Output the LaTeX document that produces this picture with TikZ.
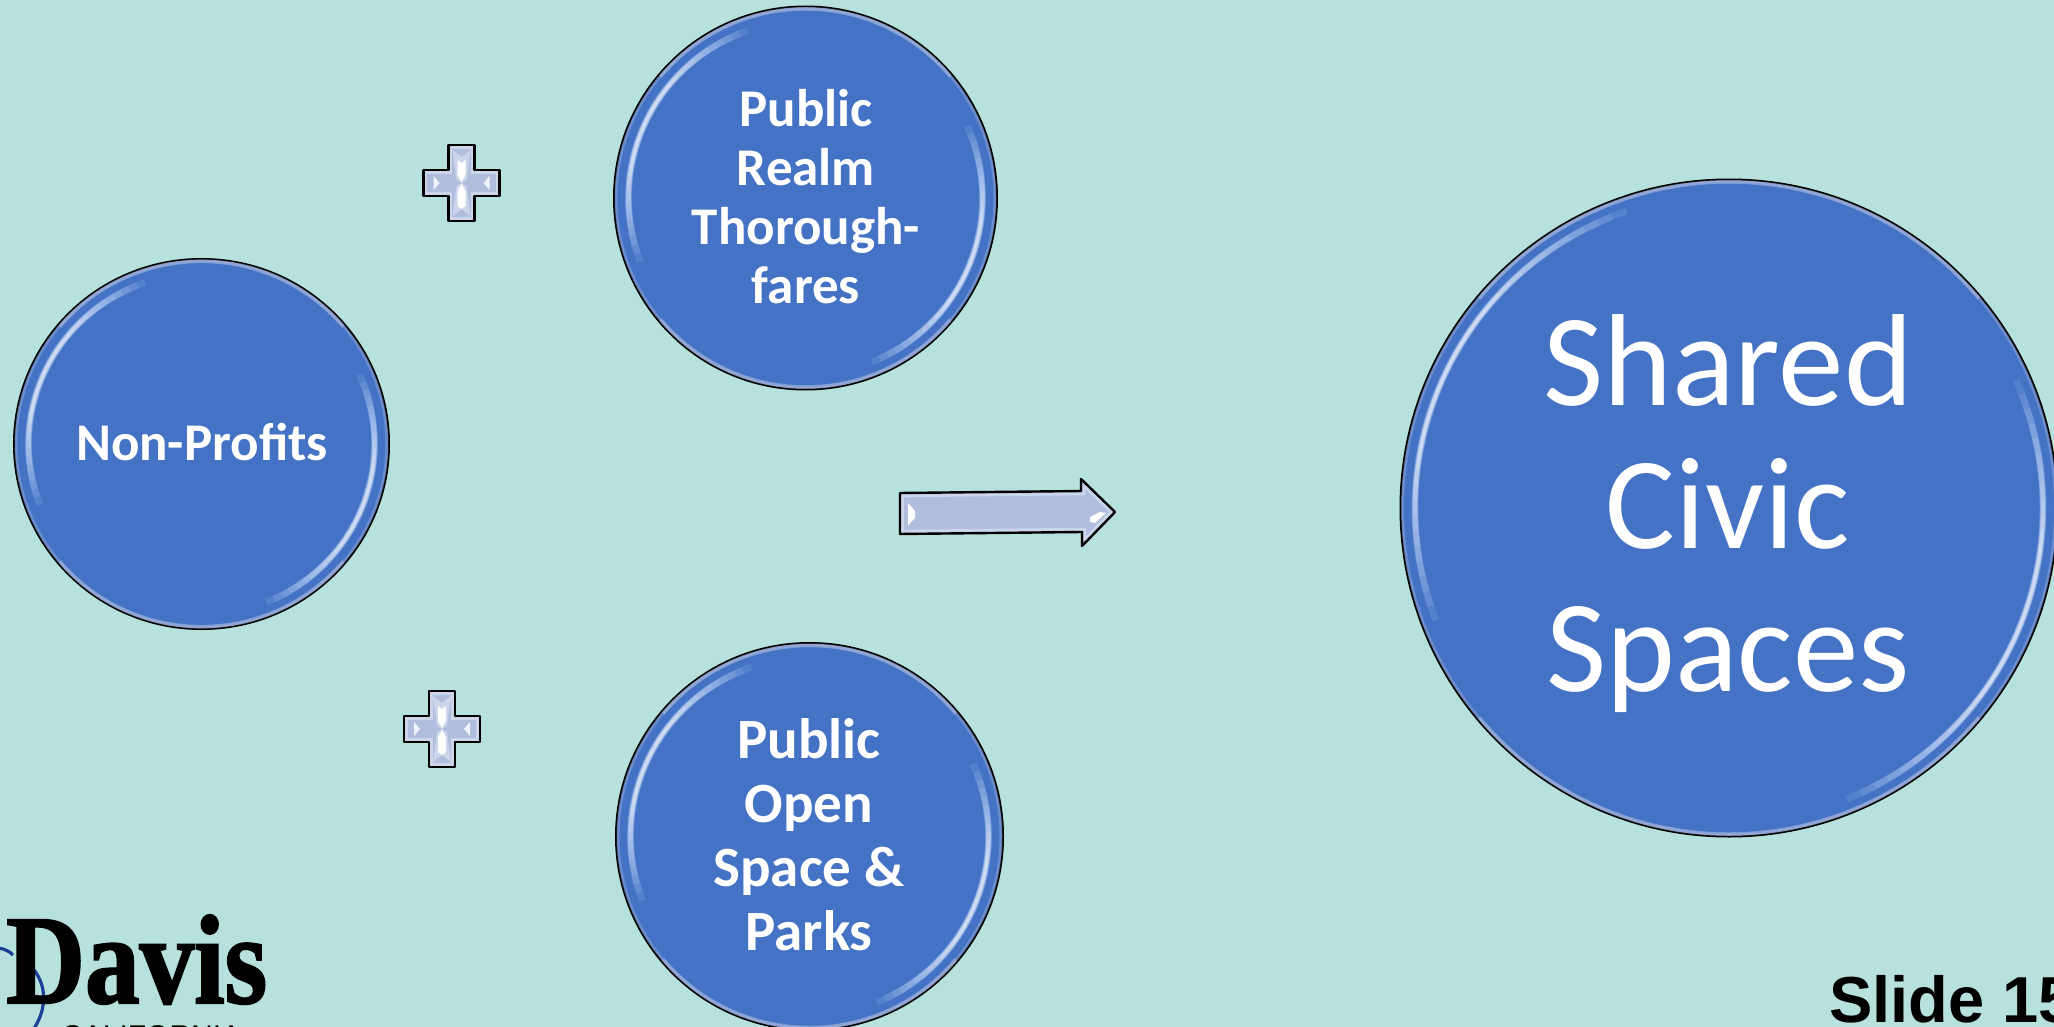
\documentclass[tikz,border=0pt]{standalone}
\usepackage{fontspec}
\usetikzlibrary{shapes.geometric}
\setmainfont{Carlito}
\newfontfamily\slidefont{Liberation Sans}
\newfontfamily\davisfont[FakeBold=1.6,FakeStretch=0.86]{Liberation Serif Bold}
\newfontfamily\capsfont{Liberation Sans}
\definecolor{pagebg}{HTML}{B7E1DC}
\definecolor{discblue}{HTML}{4472C4}
\definecolor{rimlilac}{HTML}{B4C0E0}
\definecolor{glowblue}{HTML}{86ABEA}
\definecolor{markfill}{HTML}{B0BDDD}
\definecolor{marklight}{HTML}{CDD5EA}
\definecolor{logoblue}{HTML}{1B3F94}
\tikzset{
  x=1pt,y=-1pt,
  disc/.style={ellipse,draw=black,line width=2pt,fill=discblue,inner sep=0pt},
  disctext/.style={text=white,align=center,inner sep=0pt},
  smalllabel/.style={font=\fontsize{53}{59}\selectfont\bfseries},
  openlabel/.style={font=\fontsize{57}{64}\selectfont\bfseries},
  biglabel/.style={font=\fontsize{131}{143}\selectfont},
  markshape/.style={draw=black,line width=2.4pt,line join=round,fill=markfill},
  pics/plusmark/.style={code={
    \path[markshape] (-13,-38)--(13,-38)--(13,-13)--(38,-13)--(38,13)--(13,13)--(13,38)--(-13,38)--(-13,13)--(-38,13)--(-38,-13)--(-13,-13)--cycle;
    \draw[marklight,line width=2.4pt] (-10.5,-35.5)--(10.5,-35.5)--(10.5,-10.5)--(35.5,-10.5)--(35.5,10.5)--(10.5,10.5)--(10.5,35.5)--(-10.5,35.5)--(-10.5,10.5)--(-35.5,10.5)--(-35.5,-10.5)--(-10.5,-10.5)--cycle;
    \fill[marklight] (-9,-33)--(0,-26)--(9,-33)--(5,-3)--(0,0)--(-5,-3)--cycle;
    \fill[marklight] (-9,33)--(0,26)--(9,33)--(5,3)--(0,0)--(-5,3)--cycle;
    \fill[white] (-4,-23)--(0,-20)--(4,-23)--(4,-8)--(0,-1)--(-4,-8)--cycle;
    \fill[white] (-4,23)--(0,26)--(4,23)--(4,8)--(0,1)--(-4,8)--cycle;
    \fill[white!70!marklight] (-28,-7)--(-22,0)--(-28,7)--cycle;
    \fill[white!70!marklight] (28,-7)--(22,0)--(28,7)--cycle;
  }},
}
\newcommand{\bevelrim}[4]{%
  \begin{scope}[shift={(#1,#2)},yscale=#4]
    \draw[rimlilac,line width=3pt,opacity=.35] (0,0) circle[radius=#3-2.5];
    \draw[rimlilac,line width=3.5pt,opacity=.5] (-140:#3-3) arc[start angle=-140,end angle=-40,radius=#3-3];
    \draw[rimlilac,line width=3.5pt,opacity=.5] (40:#3-3) arc[start angle=40,end angle=140,radius=#3-3];
    \foreach \i in {0,...,11}{
      \pgfmathsetmacro{\halfspan}{46-2.8*\i}
      \pgfmathsetmacro{\wid}{7-0.42*\i}
      \pgfmathsetmacro{\mixv}{int(15+7*\i)}
      \pgfmathsetmacro{\angUa}{-155+\halfspan}
      \pgfmathsetmacro{\angUb}{-155-\halfspan}
      \pgfmathsetmacro{\angLa}{22+\halfspan}
      \pgfmathsetmacro{\angLb}{22-\halfspan}
      \draw[white!\mixv!glowblue,line width=\wid pt,opacity=.2] (\angUa:#3-15) arc[start angle=\angUa,end angle=\angUb,radius=#3-15];
      \draw[white!\mixv!glowblue,line width=\wid pt,opacity=.2] (\angLa:#3-15) arc[start angle=\angLa,end angle=\angLb,radius=#3-15];
    }
  \end{scope}%
}
\begin{document}
\begin{tikzpicture}
\useasboundingbox (0,0) rectangle (2054,1027);
\clip (0,0) rectangle (2054,1027);
\fill[pagebg] (0,0) rectangle (2054,1027);

% logo
\draw[logoblue,line width=3.2pt] (-2,948) .. controls (6,949) and (10,952) .. (13,955);
\draw[logoblue,line width=3.2pt] (34,970) .. controls (46,985) and (48,1008) .. (33,1030);
\node[anchor=base west,inner sep=0pt,font=\fontsize{127}{127}\davisfont] (davis) at (6,1003) {Davis};
\node[anchor=base west,inner sep=0pt,font=\fontsize{30}{30}\capsfont,text=black] (california) at (61,1046) {CALIFORNIA};

% discs
\node[disc,minimum width=375pt,minimum height=370pt] (nonprofits) at (201.5,444) {};
\bevelrim{201.5}{444}{188}{0.987}
\node[disctext,smalllabel] (nonprofitstext) at (202,442) {Non-Profits};
\node[disc,minimum width=383pt,minimum height=383pt] (realm) at (805.5,198) {};
\bevelrim{805.5}{198}{192}{1}
\node[disctext,smalllabel] (realmtext) at (806,197) {Public\\Realm\\Thorough-\\fares};
\node[disc,minimum width=387pt,minimum height=387pt] (open) at (809.5,836.5) {};
\bevelrim{809.5}{836.5}{194}{1}
\node[disctext,openlabel] (opentext) at (809,835) {Public\\Open\\Space \&\\Parks};
\node[disc,minimum width=657pt,minimum height=657pt] (shared) at (1729,508) {};
\bevelrim{1729}{508}{329}{1}
\node[disctext,biglabel] (sharedtext) at (1728,514) {Shared\\Civic\\Spaces};

% plus marks
\pic at (461.5,183) {plusmark};
\pic at (442,729) {plusmark};

% arrow
\path[markshape] (900,493)--(1081,491)--(1081,479)--(1115,512)--(1082,546)--(1082,532)--(900,534)--cycle;
\draw[marklight,line width=2.5pt,line join=round] (902.5,496)--(1084,494)--(1084,486)--(1111,512)--(1085,539)--(1085,529)--(902.5,531)--cycle;
\fill[white] (908,503)--(915,511)--(915,518)--(908,525)--cycle;
\fill[white] (1090,517)--(1100,512)--(1106,513)--(1095,523)--(1090,522)--cycle;

% slide number
\node[anchor=base west,inner sep=0pt,font=\fontsize{65}{65}\slidefont\bfseries] (slide) at (1829,1022) {Slide 15};
\end{tikzpicture}
\end{document}
